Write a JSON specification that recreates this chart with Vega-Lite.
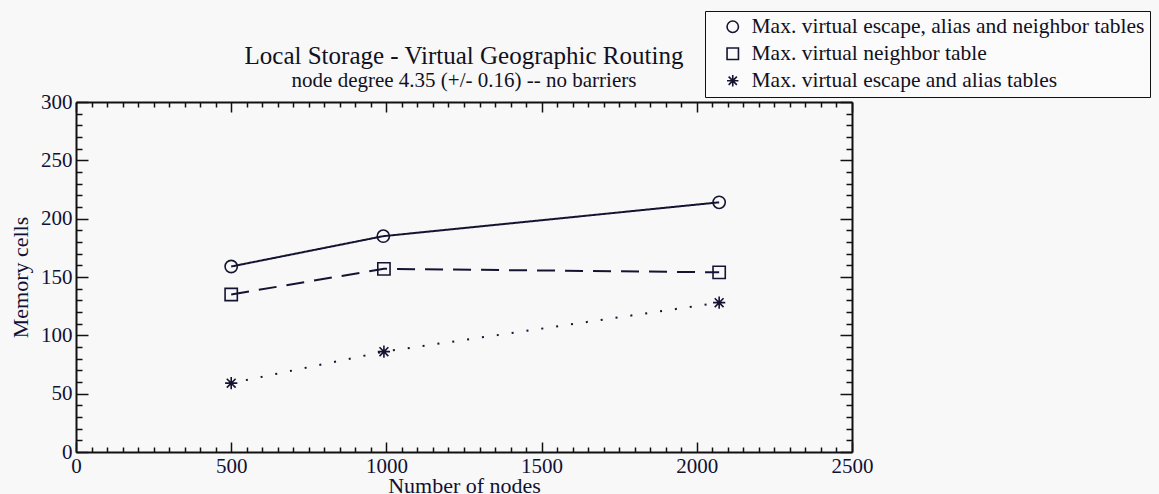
{
  "$schema": "https://vega.github.io/schema/vega-lite/v6.json",
  "autosize": {"type": "none"},
  "padding": {"left": 76, "top": 102, "right": 307, "bottom": 42},
  "width": 776,
  "height": 350,
  "background": "#f8f8f8",
  "title": {
    "text": "Local Storage - Virtual Geographic Routing",
    "subtitle": "node degree 4.35 (+/- 0.16) -- no barriers",
    "anchor": "middle",
    "font": "Liberation Serif",
    "fontSize": 25,
    "fontWeight": "normal",
    "color": "#111122",
    "subtitleFont": "Liberation Serif",
    "subtitleFontSize": 21,
    "subtitleColor": "#111122",
    "subtitlePadding": 1,
    "offset": -80
  },
  "config": {
    "view": {"stroke": null},
    "axis": {
      "grid": false,
      "domainColor": "#111111",
      "domainWidth": 2,
      "tickColor": "#111111",
      "tickWidth": 1.5,
      "labelFont": "Liberation Serif",
      "labelFontSize": 21,
      "labelColor": "#111133",
      "titleFont": "Liberation Serif",
      "titleFontSize": 22,
      "titleFontWeight": "normal",
      "titleColor": "#111133",
      "labelOverlap": false,
      "labelFlush": false
    }
  },
  "data": {
    "values": [
      {"series": "Max. virtual escape, alias and neighbor tables", "nodes": 500, "cells": 159},
      {"series": "Max. virtual escape, alias and neighbor tables", "nodes": 990, "cells": 185},
      {"series": "Max. virtual escape, alias and neighbor tables", "nodes": 2072, "cells": 214},
      {"series": "Max. virtual neighbor table", "nodes": 500, "cells": 135},
      {"series": "Max. virtual neighbor table", "nodes": 992, "cells": 157},
      {"series": "Max. virtual neighbor table", "nodes": 2072, "cells": 154},
      {"series": "Max. virtual escape and alias tables", "nodes": 500, "cells": 59},
      {"series": "Max. virtual escape and alias tables", "nodes": 992, "cells": 86},
      {"series": "Max. virtual escape and alias tables", "nodes": 2072, "cells": 128}
    ]
  },
  "layer": [
    {
      "mark": {"type": "line", "color": "#141432", "strokeWidth": 2},
      "encoding": {
        "x": {
          "field": "nodes", "type": "quantitative",
          "scale": {"domain": [0, 2500], "nice": false},
          "axis": {
            "orient": "bottom",
            "title": "Number of nodes",
            "titlePadding": -6,
            "tickCount": 50,
            "labelExpr": "datum.value % 500 === 0 ? '' + datum.value : ''",
            "labelPadding": 13,
            "tickSize": {"condition": {"test": "datum.value % 500 === 0", "value": -10}, "value": -5}
          }
        },
        "y": {
          "field": "cells", "type": "quantitative",
          "scale": {"domain": [0, 300], "nice": false},
          "axis": {
            "orient": "left",
            "title": "Memory cells",
            "titlePadding": 8,
            "tickCount": 30,
            "labelExpr": "datum.value % 50 === 0 ? '' + datum.value : ''",
            "labelPadding": 16,
            "tickSize": {"condition": {"test": "datum.value % 50 === 0", "value": -12}, "value": -6}
          }
        },
        "detail": {"field": "series"},
        "strokeDash": {
          "field": "series", "type": "nominal",
          "scale": {
            "domain": ["Max. virtual neighbor table", "Max. virtual escape, alias and neighbor tables", "Max. virtual escape and alias tables"],
            "range": [[18, 10], [1, 0], [2, 13]]
          },
          "legend": null
        }
      }
    },
    {
      "mark": {"type": "point", "filled": false, "color": "#141432", "strokeWidth": 1.6, "size": 150, "opacity": 1},
      "encoding": {
        "x": {
          "field": "nodes", "type": "quantitative",
          "scale": {"domain": [0, 2500], "nice": false},
          "axis": {
            "orient": "top",
            "title": null,
            "labels": false,
            "tickCount": 50,
            "tickSize": {"condition": {"test": "datum.value % 500 === 0", "value": -10}, "value": -5}
          }
        },
        "y": {
          "field": "cells", "type": "quantitative",
          "scale": {"domain": [0, 300], "nice": false},
          "axis": {
            "orient": "right",
            "title": null,
            "labels": false,
            "tickCount": 30,
            "tickSize": {"condition": {"test": "datum.value % 50 === 0", "value": -12}, "value": -6}
          }
        },
        "shape": {
          "field": "series", "type": "nominal",
          "scale": {
            "domain": ["Max. virtual escape, alias and neighbor tables", "Max. virtual neighbor table", "Max. virtual escape and alias tables"],
            "range": ["circle", "square", "M-1,0L1,0M0,-1L0,1M-0.72,-0.72L0.72,0.72M-0.72,0.72L0.72,-0.72"]
          },
          "legend": {
            "orient": "none",
            "legendX": 629,
            "legendY": -91,
            "title": null,
            "strokeColor": "#111111",
            "fillColor": "#fbfbfb",
            "padding": 5,
            "rowPadding": 4,
            "labelFont": "Liberation Serif",
            "labelFontSize": 21.5,
            "labelColor": "#111122",
            "labelOffset": 8,
            "labelLimit": 600,
            "symbolSize": 130,
            "symbolStrokeWidth": 1.6,
            "symbolStrokeColor": "#141432",
            "symbolFillColor": "transparent",
            "symbolOffset": 12
          }
        }
      }
    }
  ]
}
